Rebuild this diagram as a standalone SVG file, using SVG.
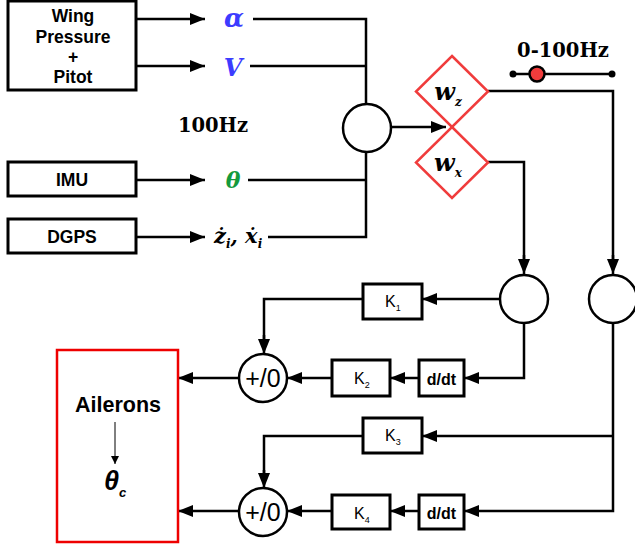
<svg xmlns="http://www.w3.org/2000/svg" width="635" height="546" viewBox="0 0 635 546">
<style>
.box{fill:#fff;stroke:#000;stroke-width:3}
.ln{fill:none;stroke:#000;stroke-width:2.5}
.arr{fill:none;stroke:#000;stroke-width:2.5;marker-end:url(#ah)}
.circ{fill:#fff;stroke:#000;stroke-width:2.5}
.dia{fill:#fff;stroke:#f03c3c;stroke-width:2.5}
.sb{font-family:"Liberation Sans",Arial,sans-serif;font-weight:bold;fill:#000}
.sr{font-family:"Liberation Sans",Arial,sans-serif;fill:#000}
.sf{font-family:"DejaVu Serif",serif;font-weight:bold;fill:#000}
.mi{font-family:"DejaVu Serif",serif;font-weight:bold;font-style:italic}
</style>
<defs>
<marker id="ah" markerUnits="userSpaceOnUse" markerWidth="15" markerHeight="12" refX="15" refY="6" orient="auto">
<path d="M0,0 L15,6 L0,12 Z" fill="#000"/>
</marker>
<marker id="ahs" markerUnits="userSpaceOnUse" markerWidth="8" markerHeight="8" refX="8" refY="4" orient="auto">
<path d="M0,0 L8,4 L0,8 Z" fill="#000"/>
</marker>
</defs>

<g id="connectors">
<path class="arr" d="M136,19 H205"/>
<path class="arr" d="M136,66 H205"/>
<path class="arr" d="M136,180 H205"/>
<path class="arr" d="M136,237 H205"/>
<path class="ln" d="M253,19 H366 V104"/>
<path class="ln" d="M250,66 H366"/>
<path class="ln" d="M248,180 H366"/>
<path class="ln" d="M268,237 H366 V152"/>
<path class="arr" d="M391,127 H446"/>
<path class="ln" d="M488,91 H613 V260"/>
<path class="arr" d="M613,255 V274"/>
<path class="ln" d="M488,162 H524 V260"/>
<path class="arr" d="M524,255 V274"/>
<path class="arr" d="M500,299 H422"/>
<path class="ln" d="M363,299 H264 V340"/>
<path class="arr" d="M264,335 V354"/>
<path class="ln" d="M524,323 V378 H480"/>
<path class="arr" d="M480,378 H464"/>
<path class="arr" d="M419,378 H390"/>
<path class="arr" d="M332,378 H287"/>
<path class="arr" d="M239,378 H178"/>
<path class="ln" d="M613,323 V511 H480"/>
<path class="arr" d="M613,436 H422"/>
<path class="ln" d="M363,436 H264 V474"/>
<path class="arr" d="M264,470 V488"/>
<path class="arr" d="M480,511 H464"/>
<path class="arr" d="M419,511 H390"/>
<path class="arr" d="M332,511 H287"/>
<path class="arr" d="M239,511 H178"/>
</g>

<g id="wing">
<rect class="box" x="8" y="1" width="128" height="89"/>
<text class="sb" font-size="17.5" text-anchor="middle"><tspan x="73" y="22">Wing</tspan><tspan x="73" y="43">Pressure</tspan><tspan x="73" y="63">+</tspan><tspan x="73" y="83">Pitot</tspan></text>
</g>
<g id="imu">
<rect class="box" x="8" y="162" width="128" height="34"/>
<text class="sb" x="72" y="186" font-size="17.5" text-anchor="middle">IMU</text>
</g>
<g id="dgps">
<rect class="box" x="8" y="219" width="128" height="34"/>
<text class="sb" x="72" y="243" font-size="17.5" text-anchor="middle">DGPS</text>
</g>

<g id="alpha"><text class="mi" x="234" y="27" font-size="26" fill="#3c3cff" text-anchor="middle">α</text></g>
<g id="vel"><text class="mi" x="233" y="76" font-size="24" fill="#3c3cff" text-anchor="middle">V</text></g>
<g id="theta"><text class="mi" x="233" y="188" font-size="22" fill="#149a3c" text-anchor="middle">θ</text></g>
<g id="zx"><text class="mi" x="214" y="243" font-size="21" fill="#000">ż<tspan font-size="12" dy="5">i</tspan><tspan dy="-5">, ẋ</tspan><tspan font-size="12" dy="5">i</tspan></text></g>

<g id="rate100"><text class="sf" x="213" y="132" font-size="19.5" text-anchor="middle">100Hz</text></g>

<g id="sum_top"><circle class="circ" cx="367" cy="128" r="24"/></g>

<g id="wz">
<polygon class="dia" points="452,56 488,91.5 452,127 416,91.5"/>
<text class="mi" x="448" y="100" font-size="24" fill="#000" text-anchor="middle">w<tspan font-size="12" dy="6">z</tspan></text>
</g>
<g id="wx">
<polygon class="dia" points="452,127 488,162.5 452,198 416,162.5"/>
<text class="mi" x="448" y="171" font-size="24" fill="#000" text-anchor="middle">w<tspan font-size="12" dy="6">x</tspan></text>
</g>

<g id="slider">
<text class="sf" x="563" y="57" font-size="19.5" text-anchor="middle">0-100Hz</text>
<line class="ln" x1="513" y1="74" x2="612" y2="74"/>
<circle cx="513" cy="74" r="3.5" fill="#000"/>
<circle cx="612" cy="74" r="3.5" fill="#000"/>
<circle cx="537" cy="74" r="7.5" fill="#f03c3c" stroke="#000" stroke-width="2.5"/>
</g>

<g id="circ_x"><circle class="circ" cx="524" cy="299" r="24"/></g>
<g id="circ_z"><circle class="circ" cx="613" cy="299" r="24"/></g>

<g id="k1">
<rect class="box" x="363" y="284" width="59" height="35"/>
<text class="sr" x="385" y="307" font-size="16">K<tspan font-size="9" dy="4">1</tspan></text>
</g>
<g id="ddt1">
<rect class="box" x="419" y="360" width="45" height="36"/>
<text class="sb" x="441.5" y="385" font-size="16" text-anchor="middle">d/dt</text>
</g>
<g id="k2">
<rect class="box" x="332" y="360" width="58" height="36"/>
<text class="sr" x="354" y="384" font-size="16">K<tspan font-size="9" dy="4">2</tspan></text>
</g>
<g id="k3">
<rect class="box" x="363" y="418" width="59" height="35"/>
<text class="sr" x="385" y="441" font-size="16">K<tspan font-size="9" dy="4">3</tspan></text>
</g>
<g id="ddt2">
<rect class="box" x="419" y="495" width="45" height="34"/>
<text class="sb" x="441.5" y="519" font-size="16" text-anchor="middle">d/dt</text>
</g>
<g id="k4">
<rect class="box" x="332" y="495" width="58" height="34"/>
<text class="sr" x="354" y="519" font-size="16">K<tspan font-size="9" dy="4">4</tspan></text>
</g>

<g id="sum1">
<circle class="circ" cx="263" cy="378" r="24"/>
<text class="sr" x="263" y="387" font-size="25" text-anchor="middle">+/0</text>
</g>
<g id="sum2">
<circle class="circ" cx="263" cy="512" r="24"/>
<text class="sr" x="263" y="521" font-size="25" text-anchor="middle">+/0</text>
</g>

<g id="ailerons">
<rect x="57" y="350" width="121" height="192" fill="#fff" stroke="#ee0000" stroke-width="2.5"/>
<text class="sb" x="118" y="412" font-size="21.5" text-anchor="middle">Ailerons</text>
<line x1="115" y1="422" x2="115" y2="464" stroke="#000" stroke-width="1" marker-end="url(#ahs)"/>
<text class="sb" x="104" y="490" font-size="27" font-style="italic">θ<tspan font-size="13" dy="7">c</tspan></text>
</g>
</svg>
